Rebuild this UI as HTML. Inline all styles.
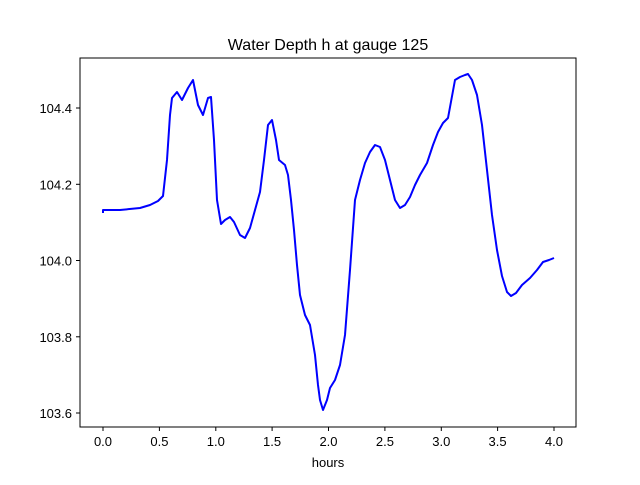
<!DOCTYPE html>
<html><head><style>body{margin:0;background:#fff}svg{font-family:"Liberation Sans","DejaVu Sans",sans-serif}</style></head><body>
<svg width="640" height="480" xmlns="http://www.w3.org/2000/svg">
<rect width="640" height="480" fill="#fff"/>
<text x="328" y="50" font-size="16" text-anchor="middle">Water Depth h at gauge 125</text>
<rect x="80" y="58" width="496" height="369" fill="none" stroke="#000" stroke-width="1"/>
<g stroke="#000" stroke-width="1">
<line x1="103" y1="427" x2="103" y2="431"/><line x1="159.4" y1="427" x2="159.4" y2="431"/><line x1="215.8" y1="427" x2="215.8" y2="431"/><line x1="272.1" y1="427" x2="272.1" y2="431"/><line x1="328.5" y1="427" x2="328.5" y2="431"/><line x1="384.9" y1="427" x2="384.9" y2="431"/><line x1="441.3" y1="427" x2="441.3" y2="431"/><line x1="497.6" y1="427" x2="497.6" y2="431"/><line x1="554" y1="427" x2="554" y2="431"/>
<line x1="76" y1="413" x2="80" y2="413"/><line x1="76" y1="336.8" x2="80" y2="336.8"/><line x1="76" y1="260.5" x2="80" y2="260.5"/><line x1="76" y1="184.3" x2="80" y2="184.3"/><line x1="76" y1="108" x2="80" y2="108"/>
</g>
<g font-size="13" text-anchor="middle">
<text x="103" y="446">0.0</text><text x="159.4" y="446">0.5</text><text x="215.8" y="446">1.0</text><text x="272.1" y="446">1.5</text><text x="328.5" y="446">2.0</text><text x="384.9" y="446">2.5</text><text x="441.3" y="446">3.0</text><text x="497.6" y="446">3.5</text><text x="554" y="446">4.0</text>
<text x="328" y="467">hours</text>
</g>
<g font-size="13" text-anchor="end">
<text x="72" y="418">103.6</text><text x="72" y="341.8">103.8</text><text x="72" y="265.5">104.0</text><text x="72" y="189.3">104.2</text><text x="72" y="113">104.4</text>
</g>
<polyline fill="none" stroke="#0000ff" stroke-width="2" stroke-linejoin="round" points="103,213 103,210 120,210 140,208 150,205 158,201 163,196 167,160 170,115 172,98 177,92 182,100 188,88 193,80 198,105 203,115 208,98 211,97 214,140 217,200 221,224 225,220 230,217 234,222 240,235 245,238 250,228 255,210 260,192 264,160 268,125 272,120 276,140 279,160 285,165 288,175 291,200 294,230 297,265 300,295 305,315 310,325 315,355 318,385 320,400 323,410 327,400 330,388 335,380 340,365 345,335 350,270 355,200 360,180 365,163 370,152 375,145 380,147 385,160 390,180 395,200 400,208 405,205 410,197 415,185 420,175 427,163 433,145 438,132 443,123 448,118 455,80 460,77 465,75 468,74 472,80 477,95 482,125 487,170 492,215 497,250 502,276 507,292 511,296 516,293 522,285 530,278 537,270 543,262 549,260 554,258"/>
</svg>
</body></html>
